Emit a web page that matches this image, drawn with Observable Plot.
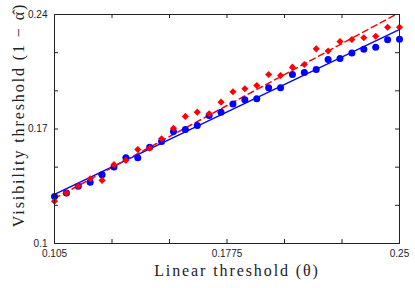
<!DOCTYPE html>
<html><head><meta charset="utf-8">
<script src="https://cdn.jsdelivr.net/npm/d3@7"></script>
<script src="https://cdn.jsdelivr.net/npm/@observablehq/plot@0.6"></script>
<style>body{margin:0;background:#fff}</style>
</head><body><div id="chart"></div>
<script>
const linearThreshold = [0.105,0.110,0.115,0.120,0.125,0.130,0.135,0.140,0.145,0.150,
  0.155,0.160,0.165,0.170,0.175,0.180,0.185,0.190,0.195,0.200,
  0.205,0.210,0.215,0.220,0.225,0.230,0.235,0.240,0.245,0.250];
const visBlue = [0.1287,0.1308,0.1350,0.1375,0.1420,0.1467,0.1524,0.1524,0.1589,0.1624,
  0.1685,0.1697,0.1722,0.1783,0.1803,0.1853,0.1879,0.1885,0.1952,0.1952,
  0.2033,0.2046,0.2064,0.2125,0.2131,0.2164,0.2188,0.2200,0.2245,0.2249];
const visRed = [0.1259,0.1308,0.1351,0.1396,0.1386,0.1482,0.1508,0.1575,0.1583,0.1640,
  0.1705,0.1777,0.1803,0.1793,0.1864,0.1928,0.1946,0.1966,0.2033,0.2027,
  0.2078,0.2094,0.2190,0.2177,0.2235,0.2247,0.2258,0.2267,0.2322,0.2322];
const fitX = [0.105, 0.25];
const fitBlue = [0.1300, 0.2308];
const fitRed = [0.1275, 0.2412];
const xTickLabels = [0.105, 0.1775, 0.25];
const yTickLabels = [0.1, 0.17, 0.24];
const xTicks = [0.105, 0.12917, 0.15333, 0.1775, 0.20167, 0.22583, 0.25];
const yTicks = [0.1, 0.12333, 0.14667, 0.17, 0.19333, 0.21667, 0.24];
const xLabel = "Linear threshold (θ)";
const yLabel = "Visibility threshold (1 − α\u0302)";

const W = 415, H = 288, mL = 54, mR = 16, mT = 14, mB = 45;
const pw = W - mL - mR, ph = H - mT - mB;
const blue = linearThreshold.map((x, i) => ({x, y: visBlue[i]}));
const red = linearThreshold.map((x, i) => ({x, y: visRed[i]}));
const fitB = fitX.map((x, i) => ({x, y: fitBlue[i]}));
const fitR = fitX.map((x, i) => ({x, y: fitRed[i]}));
const axisColor = "#222";
const serif = "'Liberation Serif', 'DejaVu Serif', serif";

const chart = Plot.plot({
  width: W, height: H,
  marginLeft: mL, marginRight: mR, marginTop: mT, marginBottom: mB,
  x: {domain: [0.105, 0.25]},
  y: {domain: [0.1, 0.24]},
  style: {fontFamily: "'Liberation Sans', Arial, sans-serif", fontSize: "10px", background: "white", color: axisColor},
  marks: [
    Plot.axisX(xTickLabels, {tickSize: 0, tickPadding: 6, tickFormat: d => String(d), label: null}),
    Plot.axisY(yTickLabels, {tickSize: 0, tickPadding: 7, tickFormat: d => String(d), label: null}),
    Plot.tickX(xTicks, {x: d => d, insetTop: ph - 4, stroke: axisColor}),
    Plot.tickX(xTicks, {x: d => d, insetBottom: ph - 4, stroke: axisColor}),
    Plot.tickY(yTicks, {y: d => d, insetRight: pw - 4, stroke: axisColor}),
    Plot.tickY(yTicks, {y: d => d, insetLeft: pw - 4, stroke: axisColor}),
    Plot.line(fitB, {x: "x", y: "y", stroke: "#0000ff", strokeWidth: 1.5, clip: true}),
    Plot.line(fitR, {x: "x", y: "y", stroke: "#ff0000", strokeWidth: 1.5, strokeDasharray: "6,4", clip: true}),
    Plot.dot(blue, {x: "x", y: "y", r: 3.5, fill: "#0000ff", stroke: null, symbol: "circle"}),
    Plot.dot(red, {x: "x", y: "y", r: 3.2, fill: "#ff0000", stroke: null, symbol: "diamond2"}),
    Plot.frame({stroke: axisColor}),
    Plot.text([xLabel], {text: d => d, frameAnchor: "bottom", textAnchor: "middle", lineAnchor: "middle", dx: 10, dy: 27, fontFamily: serif, fontSize: 16, fill: "#222"}),
    Plot.text([yLabel], {text: d => d, frameAnchor: "left", textAnchor: "middle", lineAnchor: "middle", rotate: -90, dx: -35.5, dy: -14, fontFamily: serif, fontSize: 16, fill: "#222"})
  ]
});
d3.select(chart).selectAll("text")
  .filter(function() { const t = this.textContent; return t === xLabel || t === yLabel; })
  .attr("letter-spacing", 1.9);
document.getElementById("chart").appendChild(chart);
</script>
</body></html>
